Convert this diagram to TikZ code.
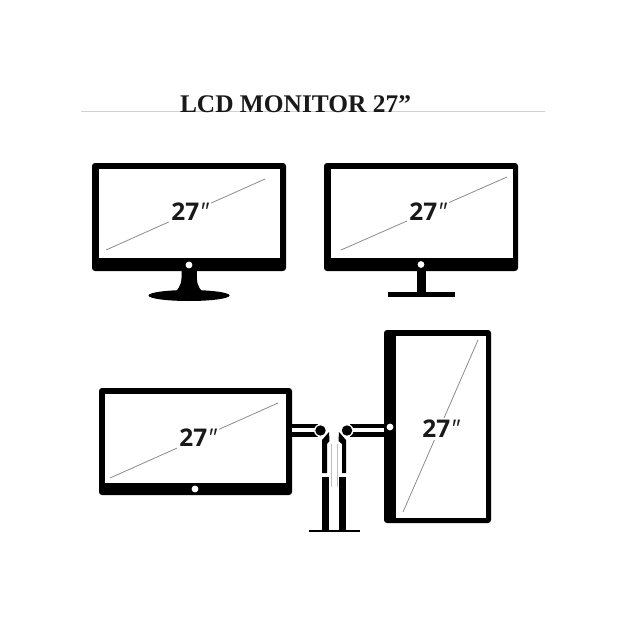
\documentclass[tikz,border=0pt]{standalone}
\usepackage{fontspec}
\setmainfont{Liberation Serif}
\newfontfamily\sizefont{Open Sans}
\usepackage{xcolor}
\usetikzlibrary{calc, positioning}

\tikzset{
    frame/.style={fill=black, rounded corners=1.5pt},
    screen/.style={fill=white},
    diag/.style={draw=black!45, line width=0.4pt},
    sizelabel/.style={font=\sizefont\fontsize{12.2}{12}\selectfont\bfseries, text=black!90, fill=white, inner sep=1pt},
    camdot/.style={fill=white},
    solidpart/.style={fill=black}
}

\begin{document}
\begin{tikzpicture}[x=0.5pt, y=-0.5pt]
    \useasboundingbox (0,0) rectangle (626,626);
    \fill[white] (0,0) rectangle (626,626);

    % Title
    \draw[black!18, line width=0.35pt] (81,111) coordinate (rule_l) -- (545,111) coordinate (rule_r);
    \node[font=\bfseries\fontsize{12.7}{12.7}\selectfont, text=black!90, inner sep=0pt] (title) at (295.5,104.5) {LCD MONITOR 27”};

    % Top left monitor
    \fill[frame] (92,163) rectangle (286,271);
    \fill[screen] (98.5,169) rectangle (280,258);
    \fill[camdot] (189,265) circle (3.4);
    \fill[solidpart] (181.5,271) .. controls (182,281) and (181,287) .. (175,292) -- (203,292) .. controls (197,287) and (196.5,281) .. (197,271) -- cycle;
    \fill[solidpart] (189,295.5) ellipse (40.5 and 5.5);
    \draw[diag] (106,250) coordinate (d1a) -- (265,179) coordinate (d1b);
    \node[sizelabel] (size1) at (190,212) {27{\mdseries\itshape"}};

    % Top right monitor
    \fill[frame] (324,163) rectangle (518,271);
    \fill[screen] (331,169) rectangle (513,258);
    \fill[camdot] (421,264.5) circle (3.4);
    \fill[solidpart] (417,271) rectangle (426,293);
    \fill[solidpart] (388,292) rectangle (455,297);
    \draw[diag] (341,250) coordinate (d2a) -- (507,177) coordinate (d2b);
    \node[sizelabel] (size2) at (428,212) {27{\mdseries\itshape"}};

    % Bottom left monitor
    \fill[frame] (99,388) rectangle (292,495);
    \fill[screen] (105,393.5) rectangle (286,483);
    \fill[camdot] (195,489) circle (3.4);
    \draw[diag] (110,478) coordinate (d3a) -- (278,403) coordinate (d3b);
    \node[sizelabel] (size3) at (198,438) {27{\mdseries\itshape"}};

    % Upright monitor
    \fill[frame] (384,330) rectangle (491,523);
    \fill[screen] (396,336) rectangle (486,518);
    \fill[camdot] (390,427) circle (3.4);
    \draw[diag] (403,512) coordinate (d4a) -- (478,340) coordinate (d4b);
    \node[sizelabel] (size4) at (441,429) {27{\mdseries\itshape"}};

    % Arms
    \fill[solidpart] (292,424) rectangle (318,436.5);
    \fill[white] (292,427.5) rectangle (316,432);
    \fill[solidpart] (350,424) rectangle (384,436.5);
    \fill[white] (352,427.5) rectangle (384,432);

    % Joints
    \fill[white] (320.5,430.5) circle (6.5);
    \fill[solidpart] (320.5,430.5) circle (5.2);
    \fill[white] (347,430.5) circle (6.5);
    \fill[solidpart] (347,430.5) circle (5.2);

    % Posts
    \fill[solidpart] (322,440) -- (329,432) -- (329.5,441) -- (327,444) -- (327,473) -- (322,473) -- cycle;
    \fill[solidpart] (346,440) -- (339,432) -- (338.5,441) -- (342,444) -- (342,473) -- (346,473) -- cycle;
    \draw[black!25, line width=0.4pt] (331,444) -- (331,487) (337.5,444) -- (337.5,487);
    \fill[solidpart] (322,477) rectangle (329,531);
    \fill[solidpart] (339,477) rectangle (346,531);

    % Foot
    \fill[solidpart] (308.5,530) rectangle (359.5,532);
\end{tikzpicture}
\end{document}
